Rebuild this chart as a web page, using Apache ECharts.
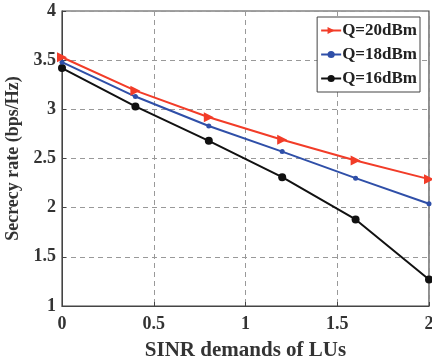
<!DOCTYPE html>
<html>
<head>
<meta charset="utf-8">
<script src="https://cdn.jsdelivr.net/npm/echarts@6/dist/echarts.min.js"></script>
<style>
  html, body { margin: 0; padding: 0; background: #fff; }
  #chart { width: 432px; height: 364px; }
</style>
</head>
<body>
<div id="chart"></div>
<script>
const xValues = [0, 0.4, 0.8, 1.2, 1.6, 2.0]
const seriesNames = ['Q=20dBm', 'Q=18dBm', 'Q=16dBm']
const q20 = [3.53, 3.19, 2.92, 2.69, 2.48, 2.29]
const q18 = [3.48, 3.13, 2.83, 2.57, 2.30, 2.04]
const q16 = [3.42, 3.03, 2.68, 2.31, 1.88, 1.27]

const font = '"Liberation Serif", "Times New Roman", serif'
const chart = echarts.init(document.getElementById('chart'))

function pairs(ys) {
  return xValues.map((x, i) => [x, ys[i]])
}

chart.setOption({
  animation: false,
  grid: {
    left: 62, right: 3, top: 11, bottom: 58,
    outerBoundsMode: 'none',
    show: true, borderColor: '#444', borderWidth: 1.2
  },
  legend: {
    orient: 'vertical',
    right: 12, top: 17,
    backgroundColor: '#fff',
    borderColor: '#444', borderWidth: 1,
    padding: [5, 3, 5, 3],
    itemGap: 7,
    itemWidth: 20, itemHeight: 9,
    textStyle: { fontFamily: font, fontWeight: 'bold', fontSize: 17, color: '#222', padding: [0, 0, 0, -4] },
    data: seriesNames
  },
  xAxis: {
    type: 'value', min: 0, max: 2, interval: 0.5,
    name: 'SINR demands of LUs', nameLocation: 'middle', nameGap: 34,
    nameTextStyle: { fontFamily: font, fontWeight: 'bold', fontSize: 21, color: '#333' },
    axisLine: { lineStyle: { color: '#444' } },
    axisTick: { inside: true, length: 4, lineStyle: { color: '#444' } },
    axisLabel: { fontFamily: font, fontWeight: 'bold', fontSize: 18, color: '#333', margin: 9 },
    splitLine: { lineStyle: { type: [5, 4], color: '#999' } }
  },
  yAxis: {
    type: 'value', min: 1, max: 4, interval: 0.5,
    name: 'Secrecy rate (bps/Hz)', nameLocation: 'middle', nameGap: 37,
    nameTextStyle: { fontFamily: font, fontWeight: 'bold', fontSize: 18, color: '#333' },
    axisLine: { lineStyle: { color: '#444' } },
    axisTick: { inside: true, length: 4, lineStyle: { color: '#444' } },
    axisLabel: { fontFamily: font, fontWeight: 'bold', fontSize: 18, color: '#333', margin: 6 },
    splitLine: { lineStyle: { type: [5, 4], color: '#999' } }
  },
  series: [
    {
      name: seriesNames[0], type: 'line', data: pairs(q20),
      symbol: 'triangle', symbolRotate: -90, symbolSize: 10,
      lineStyle: { color: '#f23c28', width: 2 },
      itemStyle: { color: '#f23c28' }, z: 3
    },
    {
      name: seriesNames[1], type: 'line', data: pairs(q18),
      symbol: 'circle', symbolSize: 5,
      lineStyle: { color: '#2f4fa8', width: 2 },
      itemStyle: { color: '#2f4fa8' }, z: 2
    },
    {
      name: seriesNames[2], type: 'line', data: pairs(q16),
      symbol: 'circle', symbolSize: 8,
      lineStyle: { color: '#111', width: 2 },
      itemStyle: { color: '#111' }, z: 1
    }
  ]
})
</script>
</body>
</html>
